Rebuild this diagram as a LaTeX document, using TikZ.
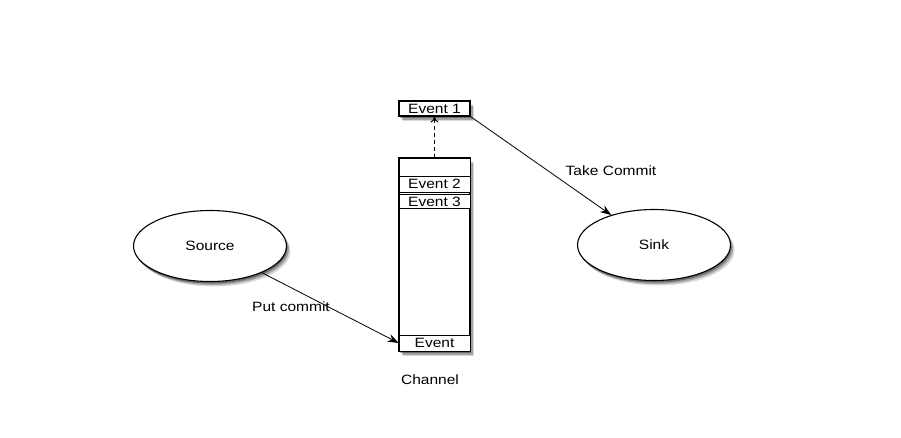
\documentclass[tikz,border=0pt]{standalone}
\usepackage{fontspec}
\setmainfont{Liberation Sans}
\usetikzlibrary{arrows.meta,shapes.geometric,shadows}
\newcommand{\tx}[1]{\scalebox{1.15}[1]{#1}}
\tikzset{
  shd/.style={
    general shadow={shadow xshift=1pt,shadow yshift=-2pt,opacity=.35,fill=black},
    general shadow={shadow xshift=2.5pt,shadow yshift=-3.5pt,opacity=.25,fill=black},
    general shadow={shadow xshift=4pt,shadow yshift=-5pt,opacity=.15,fill=black}},
  evbox/.style={draw=black,line width=1.1pt,fill=white,minimum width=71pt,inner sep=0pt,font=\fontsize{13.5}{15}\selectfont},
  rowbox/.style={evbox,line width=0.7pt},
  blob/.style={ellipse,draw=black,line width=1.1pt,fill=white,minimum width=153pt,minimum height=71pt,inner sep=0pt,font=\fontsize{13.5}{15}\selectfont},
  lbl/.style={font=\fontsize{13.5}{15}\selectfont,inner sep=1pt},
  conn/.style={line width=0.8pt,-{Stealth[length=11pt,width=8pt]}},
}
\begin{document}
\begin{tikzpicture}[x=1pt,y=-1pt]
\useasboundingbox (0,0) rectangle (901,437);
\fill[white] (0,0) rectangle (901,437);
% event 1
\node[evbox,shd,minimum height=15pt] (e1) at (434.5,108.5) {\tx{Event 1}};
% channel column
\node[evbox,shd,minimum height=193pt] (ch) at (434.5,254.5) {};
\node[rowbox,minimum height=18pt] (top) at (434.5,167) {};
\node[rowbox,minimum height=16pt] (e2) at (434.5,184) {\tx{Event 2}};
\node[rowbox,minimum height=14.5pt] (e3) at (434.5,201.5) {\tx{Event 3}};
\node[rowbox,minimum height=16pt] (ev) at (434.5,343) {\tx{Event}};
\draw[line width=1.1pt] (ch.north west) rectangle (ch.south east);
\node[lbl] (chl) at (430,380) {\tx{Channel}};
% source and sink
\node[blob,shd] (src) at (210,246) {\tx{Source}};
\node[blob,shd] (snk) at (654,245) {\tx{Sink}};
% connectors
\draw[conn] (src) -- (ev.west);
\node[lbl] (put) at (291,307) {\tx{Put commit}};
\draw[conn] (e1.south east) -- (snk);
\node[lbl] (take) at (611,171) {\tx{Take Commit}};
\draw[line width=1pt,dash pattern=on 4pt off 3pt,-{To[length=6pt,width=8pt]}] (top.north) -- (e1.south);
\end{tikzpicture}
\end{document}
